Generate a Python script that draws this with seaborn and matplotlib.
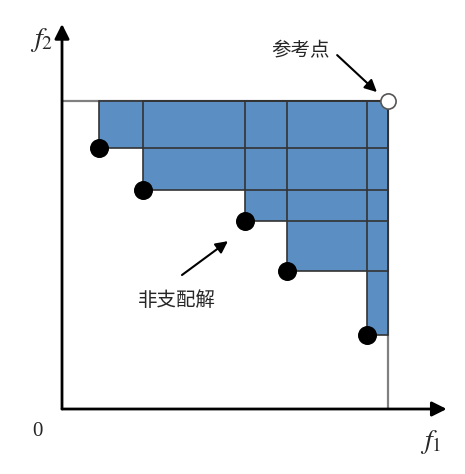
import numpy as np
import seaborn as sns
import matplotlib.pyplot as plt

# non-dominated points and the reference point (abstract units)
f1 = [1.13, 2.48, 5.61, 6.90, 9.36]
f2 = [8.47, 7.11, 6.10, 4.48, 2.40]
ref = (10.0, 10.0)

sns.set_style('white')
plt.rcParams['font.family'] = ['Noto Sans CJK SC', 'DejaVu Sans']
plt.rcParams['mathtext.fontset'] = 'stix'

fig = plt.figure(figsize=(4.65, 4.74), dpi=100)
ax = fig.add_axes([0, 0, 1, 1])
ax.set_xlim(-1.902, 12.362)
ax.set_ylim(-2.110, 13.279)
ax.axis('off')

x = np.array(f1)
y = np.array(f2)
w = ref[0] - x
h = ref[1] - y

# hypervolume boxes: fill first, edges afterwards
ax.bar(x, h, width=w, bottom=y, align='edge', color='#5b8fc3', linewidth=0, zorder=2)
ax.bar(x, h, width=w, bottom=y, align='edge', fill=False, edgecolor='#333333', linewidth=1.2, zorder=3)

# grey bounds through the reference point
ax.plot([0, ref[0]], [ref[1], ref[1]], color='#808080', lw=1.6, zorder=1)
ax.plot([ref[0], ref[0]], [0, ref[1]], color='#808080', lw=1.6, zorder=1)

# axes with arrows
ax.annotate('', xy=(11.8, 0), xytext=(0, 0),
            arrowprops=dict(arrowstyle='-|>', color='black', lw=2, mutation_scale=22, shrinkA=0, shrinkB=0))
ax.annotate('', xy=(0, 12.5), xytext=(0, 0),
            arrowprops=dict(arrowstyle='-|>', color='black', lw=2, mutation_scale=22, shrinkA=0, shrinkB=0))

sns.scatterplot(x=f1, y=f2, color='black', s=160, edgecolor='black', zorder=5, ax=ax)
ax.scatter([ref[0]], [ref[1]], s=120, color='white', edgecolor='#555555', linewidth=1.2, zorder=6)

ax.text(-0.62, 12.0, '$f_2$', fontsize=20, ha='center', va='center')
ax.text(11.3, -1.03, '$f_1$', fontsize=20, ha='center', va='center')
ax.text(-0.74, -0.74, '0', fontsize=15, family='Liberation Serif', ha='center', va='center')

ax.text(7.33, 11.62, '参考点', fontsize=14, ha='center', va='center')
ax.annotate('', xy=(9.66, 10.29), xytext=(8.44, 11.49),
            arrowprops=dict(arrowstyle='-|>', color='black', lw=1.5, mutation_scale=18, shrinkA=0, shrinkB=0))
ax.text(3.53, 3.54, '非支配解', fontsize=14, ha='center', va='center')
ax.annotate('', xy=(5.09, 5.45), xytext=(3.68, 4.35),
            arrowprops=dict(arrowstyle='-|>', color='black', lw=1.5, mutation_scale=18, shrinkA=0, shrinkB=0))

fig.savefig('out.png', dpi=100)
